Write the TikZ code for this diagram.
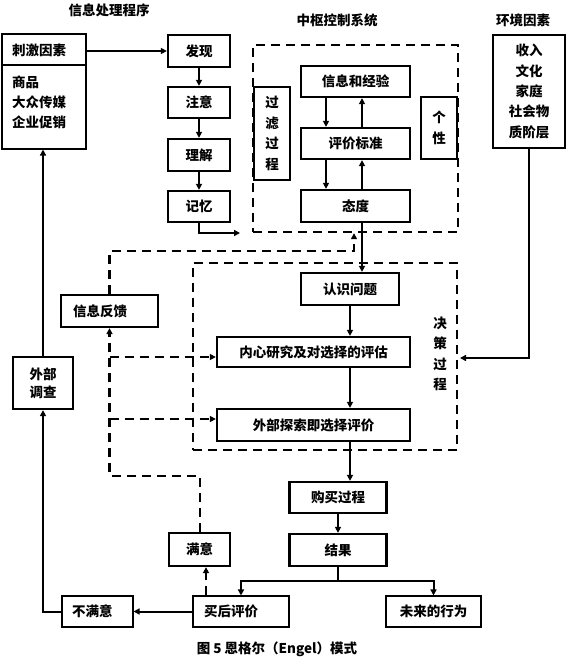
\documentclass[tikz,border=0pt]{standalone}
\usepackage{fontspec}
\setmainfont{Noto Sans CJK SC}
\usetikzlibrary{arrows.meta}
\begin{document}
\begin{tikzpicture}[x=1pt,y=-1pt,
  font=\fontsize{13.5}{16}\selectfont\bfseries,
  thickbox/.style={draw, line width=2.3pt, inner sep=0pt, align=center},
  thinbox/.style={draw, line width=1.1pt, inner sep=0pt, align=center},
  dashbox/.style={draw, line width=2.4pt, dash pattern=on 9pt off 6pt, inner sep=0pt},
  conn/.style={line width=2pt},
  arr/.style={conn, -{Triangle[length=6pt,width=6pt]}},
  dline/.style={line width=2.4pt, dash pattern=on 9pt off 6pt},
  darr/.style={dline, -{Triangle[length=6pt,width=6pt]}},
  lbl/.style={inner sep=0pt},
  vtext/.style={font=\fontsize{13.5}{20.5}\selectfont\bfseries},
]
\useasboundingbox[fill=white] (0,0) rectangle (568,662);

% titles
\node[lbl] (t1) at (109,10) {信息处理程序};
\node[lbl] (t2) at (337,20) {中枢控制系统};
\node[lbl] (t3) at (523,20) {环境因素};

% stimulus box
\node[thinbox, minimum width=84, minimum height=115] (ciji) at (44,91.5) {};
\draw[line width=1.1pt] (2,65) -- (86,65);
\node[lbl, anchor=west] (cjt) at (12,50) {刺激因素};
\node[lbl, anchor=west] (sp1) at (12,82) {商品};
\node[lbl, anchor=west] (sp2) at (12,102) {大众传媒};
\node[lbl, anchor=west] (sp3) at (12,122) {企业促销};

% information processing
\node[thickbox, minimum width=62, minimum height=32] (faxian) at (199,51) {发现};
\node[thickbox, minimum width=62, minimum height=31] (zhuyi) at (199,102.5) {注意};
\node[thickbox, minimum width=62, minimum height=32] (lijie) at (199,155) {理解};
\node[thickbox, minimum width=62, minimum height=31] (jiyi) at (199,206.5) {记忆};

% central control
\node[dashbox, minimum width=205, minimum height=187] (central) at (355.5,138.5) {};
\node[thickbox, minimum width=109, minimum height=31] (xinxi) at (355.5,81.5) {信息和经验};
\node[thickbox, minimum width=109, minimum height=31] (pingjia) at (355.5,143.5) {评价标准};
\node[thickbox, minimum width=109, minimum height=32] (taidu) at (355.5,206) {态度};
\node[thickbox, vtext, minimum width=36, minimum height=93] (guolv) at (272,133.5) {过\\滤\\过\\程};
\node[thickbox, vtext, minimum width=36, minimum height=62] (gexing) at (439,128) {个\\性};

% environment
\node[thickbox, line width=1.9pt, font=\fontsize{13.5}{20.3}\selectfont\bfseries, minimum width=72, minimum height=113] (env) at (529,91.5) {收入\\文化\\家庭\\社会物\\质阶层};

% decision process
\node[dashbox, minimum width=264, minimum height=187] (decision) at (325,356.5) {};
\node[thickbox, minimum width=98, minimum height=32] (renshi) at (350,289) {认识问题};
\node[thickbox, minimum width=193, minimum height=30] (neixin) at (313.5,352) {内心研究及对选择的评估};
\node[thickbox, minimum width=193, minimum height=32] (waibu) at (313.5,425) {外部探索即选择评价};
\node[lbl, vtext, align=center] (jc) at (440,354) {决\\策\\过\\程};

% feedback and search
\node[thickbox, text width=73, inner xsep=12, align=left, minimum height=32] (xxfk) at (109.5,311) {信息反馈};
\node[thickbox, font=\fontsize{13.5}{18}\selectfont\bfseries, minimum width=60, minimum height=52] (wbdc) at (43,383) {外部\\调查};

% purchase
\node[thickbox, minimum width=97, minimum height=31] (goumai) at (338,497.5) {购买过程};
\node[thickbox, minimum width=97, minimum height=32] (jieguo) at (338,550) {结果};
\node[thickbox, minimum width=61, minimum height=33] (manyi) at (199.5,549.5) {满意};
\node[thinbox, text width=74, inner xsep=11, align=left, minimum height=31] (maihou) at (241,611.5) {买后评价};
\node[thinbox, text width=51, inner xsep=10, align=left, minimum height=31] (bumanyi) at (97.5,611.5) {不满意};
\node[thinbox, minimum width=95, minimum height=31] (weilai) at (433.5,611.5) {未来的行为};

% caption
\node[lbl] (cap) at (277,649) {图 5 恩格尔（Engel）模式};

% solid connectors
\draw[arr] (ciji.east |- faxian) -- (faxian.west);
\draw[arr] (faxian) -- (zhuyi);
\draw[arr] (zhuyi) -- (lijie);
\draw[arr] (lijie) -- (jiyi);
\coordinate (jiyiend) at (240,233);
\draw[arr] (jiyi.south) |- (jiyiend);

\draw[arr] ([xshift=-29.5pt]xinxi.south) -- ([xshift=-29.5pt]pingjia.north);
\draw[arr] ([xshift=6.5pt]pingjia.north) -- ([xshift=6.5pt]xinxi.south);
\draw[arr] ([xshift=-29.5pt]pingjia.south) -- ([xshift=-29.5pt]taidu.north);
\draw[arr] ([xshift=6.5pt]taidu.north) -- ([xshift=6.5pt]pingjia.south);

\draw[arr] ([xshift=6.5pt]taidu.south) -- ([xshift=12pt]renshi.north);
\draw[arr] (renshi.south) -- ([xshift=36.5pt]neixin.north);
\draw[arr] ([xshift=36.5pt]neixin.south) -- ([xshift=36.5pt]waibu.north);
\draw[arr] ([xshift=36.5pt]waibu.south) -- ([xshift=12pt]goumai.north);
\draw[arr] (goumai) -- (jieguo);

\coordinate (envend) at (460,358);
\draw[arr] (env.south) |- (envend);

\coordinate (split) at (338,581);
\draw[conn] (jieguo.south) -- (split);
\draw[arr] (split) -| (maihou.north);
\draw[arr] (split) -| (weilai.north);

\draw[arr] (maihou.west) -- (bumanyi.east);
\draw[arr] (bumanyi.west) -| (wbdc.south);
\draw[arr] (wbdc.north) -- (wbdc.north |- ciji.south);

% dashed connectors
\draw[darr] ([xshift=-35pt]maihou.north) -- ([xshift=6.5pt]manyi.south);
\coordinate (loopc) at (109.5,476);
\draw[darr] ([xshift=0.5pt]manyi.north) |- (loopc) -- (xxfk.south);
\coordinate (b1) at (109.5,357);
\coordinate (b2) at (109.5,419);
\draw[darr] (b1) -- (b1 -| neixin.west);
\draw[darr] (b2) -- (b2 -| waibu.west);
\coordinate (fbturn) at (354,251);
\draw[darr] (xxfk.north) |- (fbturn) -- (fbturn |- central.south);
\end{tikzpicture}
\end{document}
